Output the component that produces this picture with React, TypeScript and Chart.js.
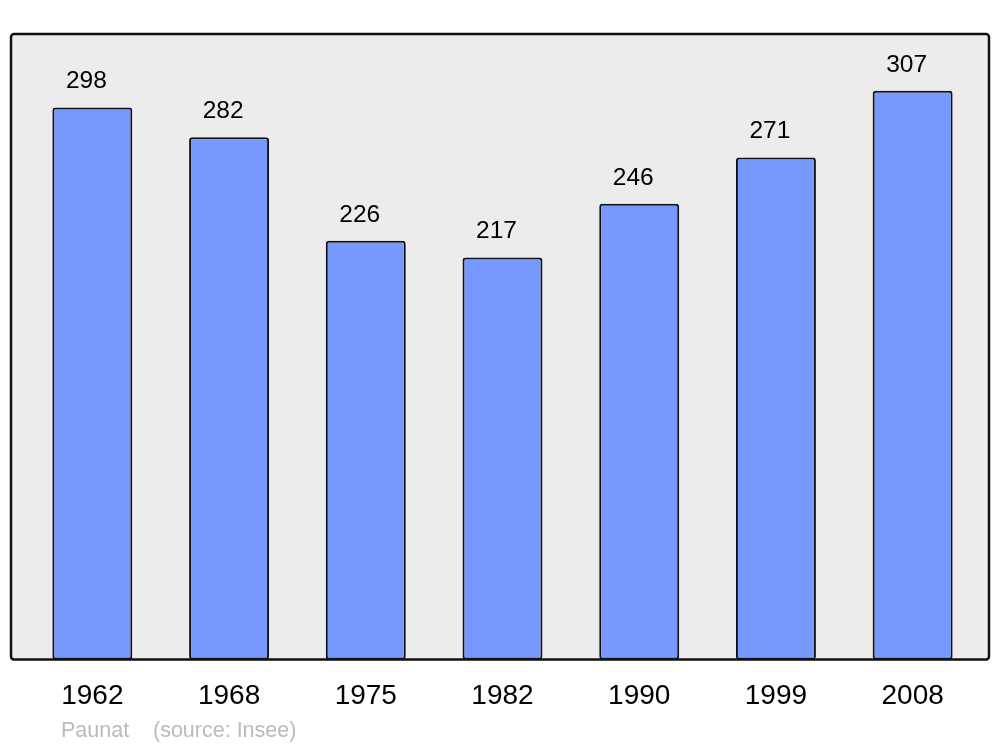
import React, { useEffect, useRef } from "react";
import { Chart, registerables } from "chart.js";

Chart.register(...registerables);

const years: string[] = ["1962", "1968", "1975", "1982", "1990", "1999", "2008"];
const population: number[] = [298, 282, 226, 217, 246, 271, 307];
const yMax = 337.7;
const footerPlace = "Paunat";
const footerSource = "(source: Insee)";

const FONT = "'Liberation Sans', Arial, sans-serif";

const frameAndLabels = {
  id: "frameAndLabels",
  beforeDatasetsDraw(chart: any) {
    const { ctx, chartArea } = chart;
    const left = chartArea.left - 13;
    const right = chartArea.right + 8;
    const top = chartArea.top;
    const bottom = chartArea.bottom;
    ctx.save();
    ctx.beginPath();
    ctx.roundRect(left, top, right - left, bottom - top, 3);
    ctx.fillStyle = "#ececec";
    ctx.fill();
    ctx.lineWidth = 2.5;
    ctx.strokeStyle = "#111111";
    ctx.stroke();
    ctx.restore();
  },
  afterDatasetsDraw(chart: any) {
    const { ctx } = chart;
    const meta = chart.getDatasetMeta(0);
    ctx.save();
    ctx.font = `24.5px ${FONT}`;
    ctx.fillStyle = "#000000";
    ctx.textAlign = "center";
    ctx.textBaseline = "middle";
    meta.data.forEach((bar: any, i: number) => {
      ctx.fillText(String(population[i]), bar.x - 6, bar.y - 26);
    });
    ctx.font = `21.5px ${FONT}`;
    ctx.fillStyle = "#bbbbbb";
    ctx.textAlign = "left";
    ctx.fillText(footerPlace, 61, 731);
    ctx.fillText(footerSource, 153, 731);
    ctx.restore();
  },
};

export default function App() {
  const ref = useRef<HTMLCanvasElement | null>(null);
  useEffect(() => {
    if (!ref.current) return;
    const chart = new Chart(ref.current, {
      type: "bar",
      data: {
        labels: years,
        datasets: [
          {
            data: population,
            backgroundColor: "#7799ff",
            borderColor: "#111111",
            borderWidth: 2,
            borderRadius: 3,
            borderSkipped: false,
            barPercentage: 0.585,
            categoryPercentage: 1,
          },
        ],
      },
      options: {
        responsive: false,
        animation: false,
        devicePixelRatio: 1,
        layout: { padding: { left: 24, right: 19, top: 34, bottom: 14 } },
        plugins: {
          legend: { display: false },
          tooltip: { enabled: false },
          title: { display: false },
        },
        scales: {
          x: {
            offset: true,
            grid: { display: false, drawTicks: false },
            border: { display: false },
            ticks: {
              color: "#000000",
              font: { family: FONT, size: 28 },
              padding: 20,
              maxRotation: 0,
            },
          },
          y: {
            display: false,
            min: 0,
            max: yMax,
          },
        },
      },
      plugins: [frameAndLabels],
    });
    return () => chart.destroy();
  }, []);
  return (
    <div style={{ position: "absolute", left: 0, top: 0, width: 1000, height: 747, background: "#ffffff" }}>
      <canvas ref={ref} width={1000} height={747} />
    </div>
  );
}
